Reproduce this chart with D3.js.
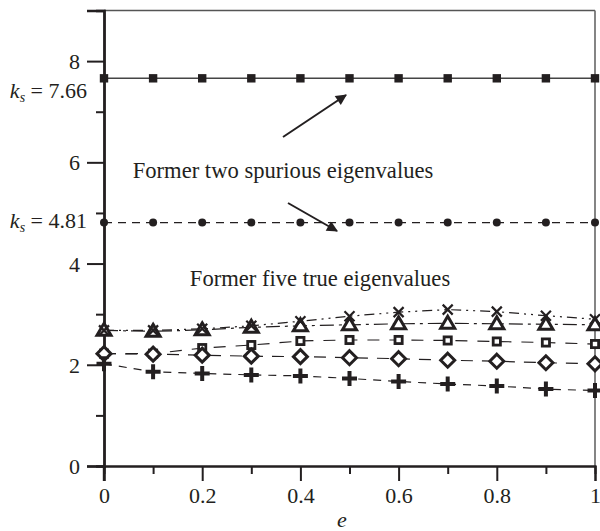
<!DOCTYPE html>
<html>
<head>
<meta charset="utf-8">
<script src="https://cdn.jsdelivr.net/npm/d3@7"></script>
<style>
  html, body { margin: 0; padding: 0; background: #fff; }
  svg { display: block; }
  text { font-family: "Liberation Serif", "Times New Roman", serif; fill: #231f20; }
</style>
</head>
<body>
<svg id="chart" width="600" height="531"></svg>
<script>
// Eccentricity values along the horizontal axis
const eValues = [0, 0.1, 0.2, 0.3, 0.4, 0.5, 0.6, 0.7, 0.8, 0.9, 1.0];

// Former spurious eigenvalues (constant)
const spuriousHigh = [7.66, 7.66, 7.66, 7.66, 7.66, 7.66, 7.66, 7.66, 7.66, 7.66, 7.66];
const spuriousLow  = [4.81, 4.81, 4.81, 4.81, 4.81, 4.81, 4.81, 4.81, 4.81, 4.81, 4.81];

// Former five true eigenvalues
const trueCross    = [2.68, 2.68, 2.71, 2.77, 2.86, 2.96, 3.04, 3.09, 3.05, 2.97, 2.90];
const trueTriangle = [2.68, 2.66, 2.69, 2.74, 2.77, 2.79, 2.81, 2.82, 2.81, 2.80, 2.79];
const trueSquare   = [2.22, 2.22, 2.33, 2.39, 2.47, 2.49, 2.49, 2.48, 2.46, 2.44, 2.41];
const trueDiamond  = [2.22, 2.21, 2.19, 2.17, 2.16, 2.14, 2.12, 2.09, 2.07, 2.04, 2.02];
const truePlus     = [2.02, 1.86, 1.83, 1.80, 1.78, 1.73, 1.67, 1.62, 1.58, 1.52, 1.49];

// Axis ticks
const xMajorTicks = [0, 0.2, 0.4, 0.6, 0.8, 1];
const xMinorTicks = [0.1, 0.3, 0.5, 0.7, 0.9];
const xTickLabels = ["0", "0.2", "0.4", "0.6", "0.8", "1"];
const yMajorTicks = [0, 2, 4, 6, 8];
const yMinorTicks = [1, 3, 5, 7, 9];
const yTickLabels = ["0", "2", "4", "6", "8"];

const svg = d3.select("#chart");
const x = d3.scaleLinear().domain([0, 1]).range([104, 595]);
const y = d3.scaleLinear().domain([0, 9]).range([466, 10.5]);
const ink = "#231f20";
const labelSize = 22;

// Frame: top and right edges
svg.append("line").attr("x1", x(0)).attr("x2", x(1)).attr("y1", y(9)).attr("y2", y(9))
  .attr("stroke", "#555").attr("stroke-width", 1.4);
svg.append("line").attr("x1", x(1)).attr("x2", x(1)).attr("y1", y(9)).attr("y2", y(0))
  .attr("stroke", "#666").attr("stroke-width", 1.6);

// X axis
const xAxisMajor = d3.axisBottom(x).tickValues(xMajorTicks)
  .tickFormat((d, i) => xTickLabels[i]).tickSize(15).tickPadding(6);
const xAxisMinor = d3.axisBottom(x).tickValues(xMinorTicks).tickFormat("").tickSize(8);
const gx = svg.append("g").attr("transform", `translate(0,${y(0)})`);
gx.call(xAxisMajor);
gx.append("g").call(xAxisMinor);
gx.selectAll(".domain").attr("stroke", ink).attr("stroke-width", 2);
gx.selectAll(".tick line").attr("stroke", ink).attr("stroke-width", 2);
gx.selectAll(".tick text").attr("font-family", "Liberation Serif").attr("font-size", labelSize)
  .attr("fill", ink).attr("dy", "0.71em");

// Y axis
const yAxisMajor = d3.axisLeft(y).tickValues(yMajorTicks)
  .tickFormat((d, i) => yTickLabels[i]).tickSize(17).tickPadding(7);
const yAxisMinor = d3.axisLeft(y).tickValues(yMinorTicks).tickFormat("").tickSize(8);
const gy = svg.append("g").attr("transform", `translate(${x(0)},0)`);
gy.call(yAxisMajor);
gy.append("g").call(yAxisMinor);
gy.selectAll(".domain").attr("stroke", ink).attr("stroke-width", 2.4);
gy.selectAll(".tick line").attr("stroke", ink).attr("stroke-width", 2);
gy.selectAll(".tick text").attr("font-family", "Liberation Serif").attr("font-size", labelSize)
  .attr("fill", ink).attr("dy", "0.34em");
// extend the vertical axis line a little below the origin
svg.append("line").attr("x1", x(0)).attr("x2", x(0)).attr("y1", y(0)).attr("y2", y(0) + 15)
  .attr("stroke", ink).attr("stroke-width", 2.4);

// Axis title
svg.append("text").attr("x", 342).attr("y", 527).attr("text-anchor", "middle")
  .attr("font-size", labelSize).attr("font-style", "italic").text("e");

// Line generator
const line = d3.line().x((d, i) => x(eValues[i])).y(d => y(d));

function drawLine(values, dash, width, color) {
  svg.append("path").datum(values).attr("d", line)
    .attr("fill", "none").attr("stroke", color || ink)
    .attr("stroke-width", width).attr("stroke-dasharray", dash);
}

// Series lines
drawLine(spuriousHigh, null, 1.4, "#444");
drawLine(spuriousLow, "8,6", 1.3);
drawLine(trueCross, "10,5,2,5,2,5", 1.2);
drawLine(trueTriangle, "14,5,3,5", 1.2);
drawLine(trueSquare, "12,10", 1.2);
drawLine(trueDiamond, "12,9", 1.2);
drawLine(truePlus, "8,7", 1.2);

// Markers
const pts = values => values.map((v, i) => [x(eValues[i]), y(v)]);

svg.append("g").selectAll("rect").data(pts(spuriousHigh)).join("rect")
  .attr("x", d => d[0] - 4.2).attr("y", d => d[1] - 4.2)
  .attr("width", 8.4).attr("height", 8.4).attr("fill", ink);

svg.append("g").selectAll("circle").data(pts(spuriousLow)).join("circle")
  .attr("cx", d => d[0]).attr("cy", d => d[1]).attr("r", 4).attr("fill", ink);

svg.append("g").selectAll("path").data(pts(trueTriangle)).join("path")
  .attr("d", d => `M${d[0]},${d[1] - 7} L${d[0] + 7},${d[1] + 5} L${d[0] - 7},${d[1] + 5} Z`)
  .attr("fill", "#fff").attr("stroke", ink).attr("stroke-width", 3).attr("stroke-linejoin", "miter");

svg.append("g").selectAll("path").data(pts(trueCross)).join("path")
  .attr("d", d => `M${d[0] - 5},${d[1] - 5} L${d[0] + 5},${d[1] + 5} M${d[0] + 5},${d[1] - 5} L${d[0] - 5},${d[1] + 5}`)
  .attr("fill", "none").attr("stroke", ink).attr("stroke-width", 2.2);

svg.append("g").selectAll("rect").data(pts(trueSquare)).join("rect")
  .attr("x", d => d[0] - 3.6).attr("y", d => d[1] - 3.6)
  .attr("width", 7.2).attr("height", 7.2)
  .attr("fill", "#fff").attr("stroke", ink).attr("stroke-width", 2.8);

svg.append("g").selectAll("path").data(pts(trueDiamond)).join("path")
  .attr("d", d => `M${d[0]},${d[1] - 7} L${d[0] + 7},${d[1]} L${d[0]},${d[1] + 7} L${d[0] - 7},${d[1]} Z`)
  .attr("fill", "#fff").attr("stroke", ink).attr("stroke-width", 3);

svg.append("g").selectAll("path").data(pts(truePlus)).join("path")
  .attr("d", d => `M${d[0] - 7.5},${d[1]} L${d[0] + 7.5},${d[1]} M${d[0]},${d[1] - 7.5} L${d[0]},${d[1] + 7.5}`)
  .attr("fill", "none").attr("stroke", ink).attr("stroke-width", 4);

// Labels for the spurious eigenvalue levels
function ksLabel(value, baselineY) {
  const t = svg.append("text").attr("x", 87).attr("y", baselineY)
    .attr("text-anchor", "end").attr("font-size", labelSize);
  t.append("tspan").attr("font-style", "italic").text("k");
  t.append("tspan").attr("font-style", "italic").attr("font-size", 14).attr("dy", 4).text("s");
  t.append("tspan").attr("dy", -4).text(" = " + value.toFixed(2));
}
ksLabel(spuriousHigh[0], 98);
ksLabel(spuriousLow[0], 228);

// Annotations
svg.append("text").attr("x", 283).attr("y", 178).attr("text-anchor", "middle")
  .attr("font-size", 22.6).text("Former two spurious eigenvalues");
svg.append("text").attr("x", 320).attr("y", 286).attr("text-anchor", "middle")
  .attr("font-size", 22.6).text("Former five true eigenvalues");

// Arrows
const defs = svg.append("defs");
defs.append("marker").attr("id", "head").attr("viewBox", "0 0 10 10")
  .attr("refX", 9).attr("refY", 5).attr("markerWidth", 15).attr("markerHeight", 11)
  .attr("markerUnits", "userSpaceOnUse").attr("orient", "auto")
  .append("path").attr("d", "M0,0 L10,5 L0,10 Z").attr("fill", ink);

svg.append("line").attr("x1", 283).attr("y1", 137).attr("x2", 346).attr("y2", 95)
  .attr("stroke", ink).attr("stroke-width", 2).attr("marker-end", "url(#head)");
svg.append("line").attr("x1", 288).attr("y1", 203).attr("x2", 337).attr("y2", 231)
  .attr("stroke", ink).attr("stroke-width", 2).attr("marker-end", "url(#head)");
</script>
</body>
</html>
